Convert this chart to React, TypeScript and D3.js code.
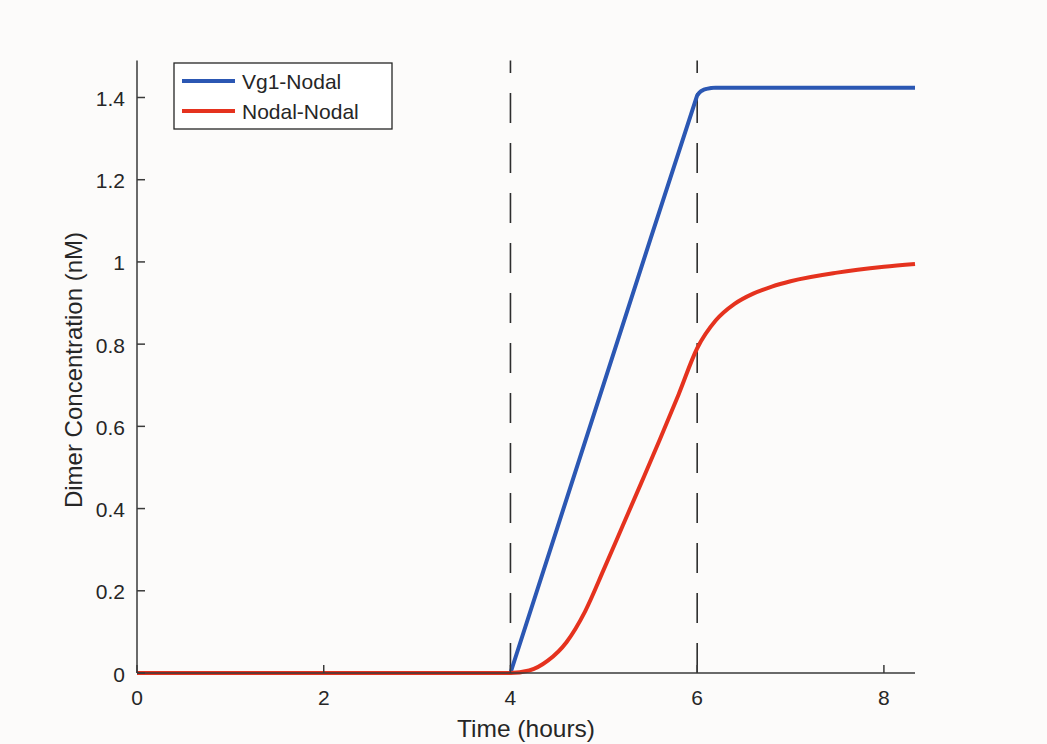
import React from 'react';
import * as d3 from 'd3';

// time in hours, concentration in nM
const vg1Time = [0, 1, 2, 3, 4, 4.5, 5, 5.5, 6, 6.02, 6.04, 6.07, 6.1, 6.15, 6.2, 7, 8, 8.333];
const vg1Conc = [0, 0, 0, 0, 0, 0.352, 0.704, 1.056, 1.405, 1.411, 1.415, 1.419, 1.421, 1.423, 1.424, 1.424, 1.424, 1.424];

const nodalTime = [0, 1, 2, 3, 4, 4.2, 4.4, 4.6, 4.8, 5.0, 5.2, 5.4, 5.6, 5.8, 6.0, 6.2, 6.4, 6.6, 6.8, 7.0, 7.5, 8.0, 8.333];
const nodalConc = [0, 0, 0, 0, 0, 0.006, 0.03, 0.075, 0.15, 0.252, 0.357, 0.462, 0.568, 0.677, 0.79, 0.858, 0.898, 0.923, 0.94, 0.953, 0.974, 0.988, 0.995];

const markers = [4, 6];

const xTicks = [0, 2, 4, 6, 8];
const xTickLabels = ['0', '2', '4', '6', '8'];
const yTicks = [0, 0.2, 0.4, 0.6, 0.8, 1, 1.2, 1.4];
const yTickLabels = ['0', '0.2', '0.4', '0.6', '0.8', '1', '1.2', '1.4'];

const seriesNames = ['Vg1-Nodal', 'Nodal-Nodal'];
const colors = ['#2b57b3', '#e5321e'];

const W = 1047;
const H = 744;
const font = '"Liberation Sans", Arial, Helvetica, sans-serif';
const axisColor = '#3a3a3a';
const textColor = '#262626';

export default function App() {
  const x = d3.scaleLinear().domain([0, 8.333]).range([137, 915]);
  const y = d3.scaleLinear().domain([0, 1.49]).range([673, 60.5]);

  const lineStraight = d3.line<[number, number]>()
    .x(d => x(d[0]))
    .y(d => y(d[1]));
  const lineSmooth = d3.line<[number, number]>()
    .x(d => x(d[0]))
    .y(d => y(d[1]))
    .curve(d3.curveMonotoneX);

  const series = [
    vg1Time.map((t, i) => [t, vg1Conc[i]] as [number, number]),
    nodalTime.map((t, i) => [t, nodalConc[i]] as [number, number]),
  ];
  const paths = [lineStraight(series[0]), lineSmooth(series[1])];

  const [x0, x1] = x.range();
  const [y0, y1] = y.range();

  return (
    <svg width={W} height={H} style={{ position: 'absolute', left: 0, top: 0, display: 'block' }}>
      <rect width={W} height={H} fill="#fcfbfa" />

      {/* dashed markers, drawn upward so dashes start at the axis */}
      {markers.map(m => (
        <line key={m} x1={x(m)} x2={x(m)} y1={y0} y2={y1}
          stroke="#2e2e2e" strokeWidth={1.6} strokeDasharray="30 20" />
      ))}

      {paths.map((p, i) => (
        <path key={i} d={p || ''} fill="none" stroke={colors[i]}
          strokeWidth={4} strokeLinejoin="round" strokeLinecap="butt" />
      ))}

      {/* axes */}
      <g stroke={axisColor} strokeWidth={1.5} fill="none">
        <line x1={x0} x2={x1} y1={y0} y2={y0} />
        <line x1={x0} x2={x0} y1={y0} y2={y1} />
        {xTicks.map(t => (
          <line key={'xt' + t} x1={x(t)} x2={x(t)} y1={y0} y2={y0 - 8} />
        ))}
        {yTicks.map(t => (
          <line key={'yt' + t} x1={x0} x2={x0 + 8} y1={y(t)} y2={y(t)} />
        ))}
      </g>

      <g fontFamily={font} fontSize={21} fill={textColor}>
        {xTicks.map((t, i) => (
          <text key={'xl' + t} x={x(t)} y={705} textAnchor="middle">{xTickLabels[i]}</text>
        ))}
        {yTicks.map((t, i) => (
          <text key={'yl' + t} x={125} y={y(t) + 8.5} textAnchor="end">{yTickLabels[i]}</text>
        ))}
      </g>

      <text x={(x0 + x1) / 2} y={737} textAnchor="middle" fontFamily={font} fontSize={24.5} fill={textColor}>
        Time (hours)
      </text>
      <text transform={`translate(82, 370) rotate(-90)`} textAnchor="middle" fontFamily={font} fontSize={24} fill={textColor}>
        Dimer Concentration (nM)
      </text>

      {/* legend */}
      <g>
        <rect x={174} y={63} width={218} height={66} fill="#ffffff" stroke="#262626" strokeWidth={1.3} />
        {seriesNames.map((name, i) => (
          <g key={name} transform={`translate(0, ${81 + i * 30})`}>
            <line x1={182} x2={235} y1={0} y2={0} stroke={colors[i]} strokeWidth={4} />
            <text x={242} y={7.5} fontFamily={font} fontSize={21} fill={textColor}>{name}</text>
          </g>
        ))}
      </g>
    </svg>
  );
}
